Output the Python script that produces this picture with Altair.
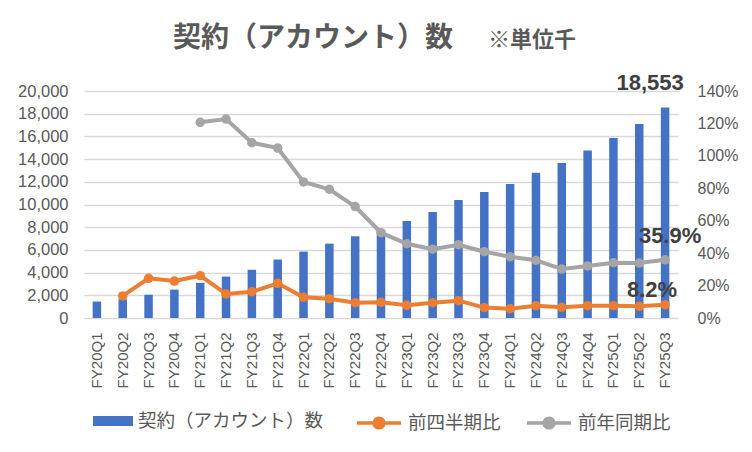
import altair as alt
import pandas as pd

quarters = ["FY20Q1", "FY20Q2", "FY20Q3", "FY20Q4",
            "FY21Q1", "FY21Q2", "FY21Q3", "FY21Q4",
            "FY22Q1", "FY22Q2", "FY22Q3", "FY22Q4",
            "FY23Q1", "FY23Q2", "FY23Q3", "FY23Q4",
            "FY24Q1", "FY24Q2", "FY24Q3", "FY24Q4",
            "FY25Q1", "FY25Q2", "FY25Q3"]
accounts = [1450, 1650, 2050, 2500,
            3100, 3650, 4250, 5150,
            5850, 6550, 7200, 7700,
            8550, 9350, 10400, 11100,
            11800, 12800, 13650, 14750,
            15850, 17100, 18553]
qoq = [None, 0.136, 0.245, 0.228,
       0.261, 0.148, 0.162, 0.214,
       0.128, 0.119, 0.094, 0.097,
       0.078, 0.094, 0.107, 0.064,
       0.057, 0.076, 0.066, 0.076,
       0.076, 0.072, 0.082]
yoy = [None, None, None, None,
       1.207, 1.227, 1.081, 1.048,
       0.839, 0.794, 0.687, 0.526,
       0.458, 0.424, 0.452, 0.409,
       0.378, 0.356, 0.302, 0.321,
       0.341, 0.339, 0.359]
left_ticks = [0, 2000, 4000, 6000, 8000, 10000, 12000, 14000, 16000, 18000, 20000]
right_ticks = [0, 0.2, 0.4, 0.6, 0.8, 1.0, 1.2, 1.4]

TITLE = "契約（アカウント）数"
NOTE = "※単位千"
S_BAR = "契約（アカウント）数"
S_QOQ = "前四半期比"
S_YOY = "前年同期比"

BLUE = "#4472C4"
ORANGE = "#ED7D31"
GRAY = "#A5A5A5"
TXT = "#595959"
LBL = "#404040"
JP = "Noto Sans CJK JP"
LAT = "Liberation Sans"

df = pd.DataFrame({"q": quarters, "acc": accounts, "qoq": qoq, "yoy": yoy})
df["s_bar"] = S_BAR
df["s_qoq"] = S_QOQ
df["s_yoy"] = S_YOY

x_enc = alt.X("q:N", sort=quarters, title=None,
              scale=alt.Scale(paddingInner=0, paddingOuter=0),
              axis=alt.Axis(labelAngle=-90, labelFontSize=15, labelFont=LAT,
                            labelColor=TXT, labelPadding=14, ticks=False,
                            domain=False, grid=False, labelOverlap=False))

left_axis = alt.Axis(values=left_ticks, format=",.0f", labelFontSize=16.5, labelFont=LAT,
                     labelColor=TXT, labelPadding=16, ticks=False, domain=False,
                     grid=True, gridColor="#D9D9D9", gridWidth=1.3, title=None,
                     labelOverlap=False)
right_axis = alt.Axis(values=right_ticks, format=".0%", orient="right",
                      labelFontSize=16, labelFont=LAT, labelColor=TXT,
                      labelPadding=19, ticks=False, domain=False, grid=False,
                      title=None, labelOverlap=False)

RECT = "M-1,-0.25H1V0.25H-1Z"
LINEDOT = "M-1,0H1M-0.22,0A0.22,0.22,0,1,1,0.22,0A0.22,0.22,0,1,1,-0.22,0"


def leg(x, y, path, size, color, sw):
    return alt.Legend(orient="none", legendX=x, legendY=y, title=None,
                      labelFont=JP, labelFontSize=18.5, labelColor=TXT,
                      labelOffset=5, labelLimit=400, padding=0, symbolType=path,
                      symbolSize=size, symbolFillColor=color,
                      symbolStrokeColor=color, symbolStrokeWidth=sw,
                      symbolOpacity=1)


ly = alt.Scale(domain=[0, 20000])
bars = alt.Chart(df).mark_bar(size=8.5).encode(
    x=x_enc,
    y=alt.Y("acc:Q", scale=ly, axis=left_axis),
    color=alt.Color("s_bar:N", scale=alt.Scale(domain=[S_BAR], range=[BLUE]),
                    legend=leg(9, 310, RECT, 1600, BLUE, 0)),
)
bar_label = alt.Chart(df).transform_filter(alt.datum.q == "FY25Q3").mark_text(
    font=LAT, fontSize=22, fontWeight="bold", color=LBL, dx=-15, dy=-24,
    baseline="middle", align="center"
).encode(x=x_enc, y=alt.Y("acc:Q", scale=ly, axis=left_axis),
         text=alt.Text("acc:Q", format=","))

bar_layer = alt.layer(bars, bar_label)

ry = alt.Scale(domain=[0, 1.4])
line_qoq = alt.Chart(df).mark_line(
    strokeWidth=4, point=alt.OverlayMarkDef(filled=True, size=90, color=ORANGE)
).encode(
    x=x_enc,
    y=alt.Y("qoq:Q", scale=ry, axis=right_axis),
    color=alt.Color("s_qoq:N", scale=alt.Scale(domain=[S_QOQ], range=[ORANGE]),
                    legend=leg(271, 308, LINEDOT, 1936, ORANGE, 3.5)),
)
line_yoy = alt.Chart(df).mark_line(
    strokeWidth=4, point=alt.OverlayMarkDef(filled=True, size=90, color=GRAY)
).encode(
    x=x_enc,
    y=alt.Y("yoy:Q", scale=ry, axis=right_axis),
    color=alt.Color("s_yoy:N", scale=alt.Scale(domain=[S_YOY], range=[GRAY]),
                    legend=leg(441, 308, LINEDOT, 1936, GRAY, 3.5)),
)
qoq_label = alt.Chart(df).transform_filter(alt.datum.q == "FY25Q3").mark_text(
    font=LAT, fontSize=22, fontWeight="bold", color=LBL, dx=-13, dy=-15,
    baseline="middle", align="center"
).encode(x=x_enc, y=alt.Y("qoq:Q", scale=ry, axis=right_axis),
         text=alt.Text("qoq:Q", format=".1%"))
yoy_label = alt.Chart(df).transform_filter(alt.datum.q == "FY25Q3").mark_text(
    font=LAT, fontSize=22, fontWeight="bold", color=LBL, dx=5, dy=-24,
    baseline="middle", align="center"
).encode(x=x_enc, y=alt.Y("yoy:Q", scale=ry, axis=right_axis),
         text=alt.Text("yoy:Q", format=".1%"))

line_layer = alt.layer(line_qoq, line_yoy, qoq_label, yoy_label).resolve_scale(
    color="independent")

title_txt = alt.Chart(alt.Data(values=[{"t": TITLE}])).mark_text(
    font=JP, fontSize=28, fontWeight="bold", color=TXT, align="left",
    baseline="alphabetic"
).encode(x=alt.value(89), y=alt.value(-44), text="t:N")

note = alt.Chart(alt.Data(values=[{"t": NOTE}])).mark_text(
    font=JP, fontSize=22, fontWeight="bold", color=TXT, align="left",
    baseline="alphabetic"
).encode(x=alt.value(404), y=alt.value(-44), text="t:N")

chart = alt.layer(bar_layer, line_layer, title_txt, note).resolve_scale(
    y="independent", color="independent"
).properties(
    width=594, height=227,
    autosize=alt.AutoSizeParams(type="none"),
    padding={"left": 76, "top": 83, "right": 66, "bottom": 120},
    background="white",
).configure_view(stroke=None)

chart.save("out.html", embed_options={"renderer": "svg", "actions": False})
